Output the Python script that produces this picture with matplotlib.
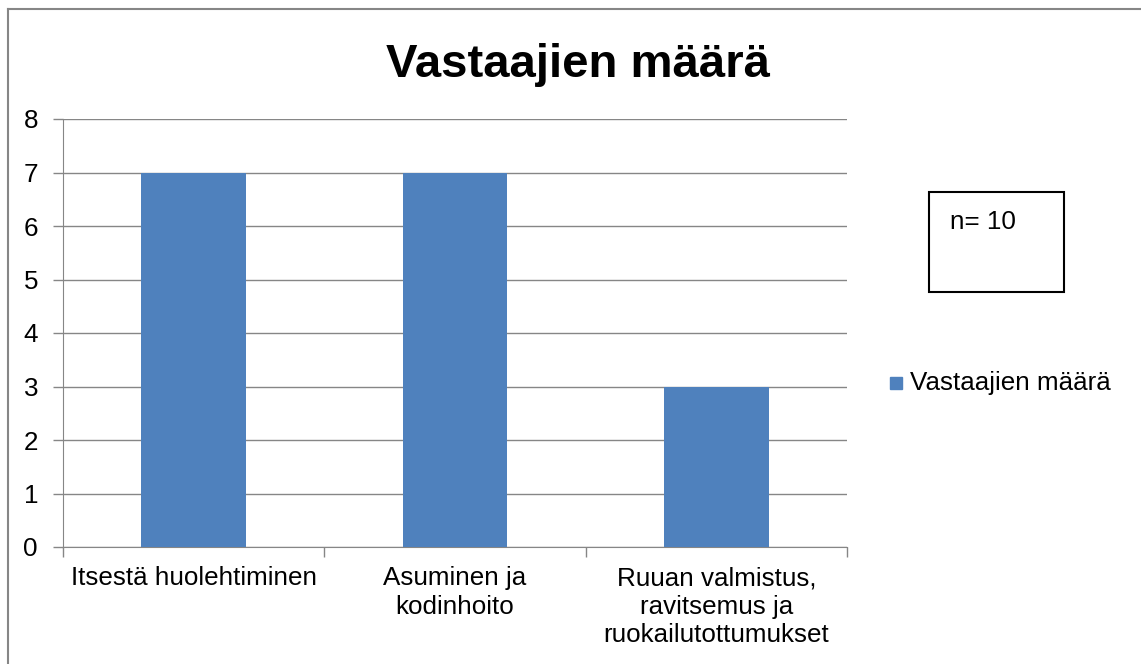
import matplotlib.pyplot as plt
from matplotlib.lines import Line2D
from matplotlib.patches import Rectangle
from matplotlib.transforms import offset_copy

plt.rcParams['font.family'] = ['Liberation Sans', 'DejaVu Sans']

categories = ['Itsestä huolehtiminen', 'Asuminen ja\nkodinhoito',
              'Ruuan valmistus,\nravitsemus ja\nruokailutottumukset']
values = [7, 7, 3]
series_name = 'Vastaajien määrä'
yticks = [0, 1, 2, 3, 4, 5, 6, 7, 8]

W, H = 1141, 664
fs = 18.7
fig = plt.figure(figsize=(W / 100, H / 100), dpi=100)
grid_col = '#868686'

# outer chart frame (only top and left edges are inside the image)
fig.add_artist(Line2D([8 / W, 8 / W], [0, 1 - 9 / H], color=grid_col, lw=1.5))
fig.add_artist(Line2D([8 / W, 1], [1 - 9 / H, 1 - 9 / H], color=grid_col, lw=1.5))

ax = fig.add_axes([63 / W, 1 - 547 / H, (847 - 63) / W, (547 - 119) / H])
x = range(len(categories))
ax.bar(x, values, width=0.4, color='#4F81BD', zorder=3, label=series_name)

ax.set_xlim(-0.5, len(categories) - 0.5)
ax.set_ylim(0, 8)
ax.set_yticks(yticks)
ax.set_yticklabels([str(v) for v in yticks], fontsize=fs)
ax.yaxis.grid(True, color=grid_col, lw=1)
ax.set_axisbelow(True)

# x ticks sit between categories
ax.set_xticks([-0.5, 0.5, 1.5, 2.5])
ax.set_xticklabels([])
ax.tick_params(axis='x', direction='out', length=7, color=grid_col, width=1)
ax.tick_params(axis='y', direction='out', length=7, color=grid_col, width=1, pad=11)
lab_tr = offset_copy(ax.get_xaxis_transform(), fig=fig, y=-14, units='points')
for i, lab in enumerate(categories):
    ax.text(i, 0, lab, ha='center', va='top', fontsize=fs, linespacing=1.22,
            transform=lab_tr)

for s in ['top', 'right']:
    ax.spines[s].set_visible(False)
for s in ['left', 'bottom']:
    ax.spines[s].set_color(grid_col)

fig.text(578 / W, 1 - 65 / H, 'Vastaajien määrä', ha='center', va='center',
         fontsize=34, fontweight='bold')

# n box
fig.add_artist(Rectangle((929 / W, 1 - 292 / H), 135 / W, 100 / H, fill=False,
                         ec='black', lw=1.5, transform=fig.transFigure))
fig.text(950 / W, 1 - 222 / H, 'n= 10', ha='left', va='center', fontsize=fs)

# legend
fig.add_artist(Rectangle((890 / W, 1 - 389 / H), 12 / W, 12 / H, color='#4F81BD',
                         transform=fig.transFigure))
fig.text(910 / W, 1 - 383 / H, series_name, ha='left', va='center', fontsize=fs)

fig.savefig('out.png', dpi=100)
